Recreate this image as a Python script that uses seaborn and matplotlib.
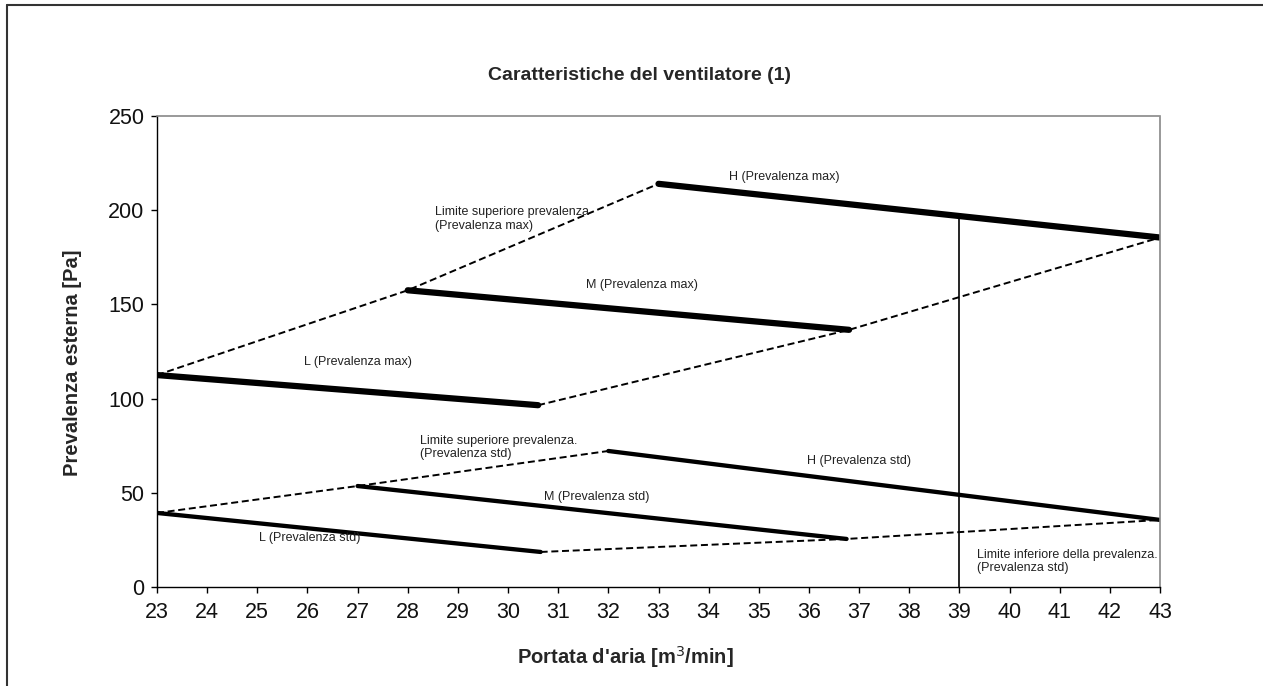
import matplotlib
matplotlib.use("Agg")
import matplotlib.pyplot as plt
from matplotlib.lines import Line2D
import seaborn as sns
import pandas as pd

# ---- data ----
x_ticks = list(range(23, 44))
y_ticks = [0, 50, 100, 150, 200, 250]

# max-pressure fan curves
L_max_x = [23.0, 30.6]
L_max_y = [112.5, 96.5]
M_max_x = [28.0, 36.8]
M_max_y = [157.5, 136.5]
H_max_x = [33.0, 43.0]
H_max_y = [214.0, 185.5]
# max-pressure envelope
upper_max_x = [23.0, 28.0, 33.0]
upper_max_y = [112.5, 157.5, 214.0]
lower_max_x = [30.6, 36.8, 43.0]
lower_max_y = [96.5, 136.5, 185.5]

# standard-pressure fan curves
L_std_x = [23.0, 30.65]
L_std_y = [39.3, 18.6]
M_std_x = [27.0, 36.75]
M_std_y = [53.6, 25.5]
H_std_x = [32.0, 43.0]
H_std_y = [72.2, 35.6]
# standard-pressure envelope
upper_std_x = [23.0, 27.0, 32.0]
upper_std_y = [39.3, 53.6, 72.2]
lower_std_x = [30.65, 36.75, 43.0]
lower_std_y = [18.6, 25.5, 35.6]

# vertical reference line
vline_x = [39.0, 39.0]
vline_y = [0.0, 197.3]

labels = [
    ("H (Prevalenza max)", 35.5, 217.6, "center"),
    ("Limite superiore prevalenza\n(Prevalenza max)", 28.55, 195.5, "left"),
    ("M (Prevalenza max)", 32.66, 160.3, "center"),
    ("L (Prevalenza max)", 27.0, 119.4, "center"),
    ("Limite superiore prevalenza.\n(Prevalenza std)", 28.25, 74.0, "left"),
    ("H (Prevalenza std)", 37.0, 66.9, "center"),
    ("M (Prevalenza std)", 31.76, 47.8, "center"),
    ("L (Prevalenza std)", 26.04, 26.0, "center"),
    ("Limite inferiore della prevalenza.\n(Prevalenza std)", 39.35, 13.5, "left"),
]

title = "Caratteristiche del ventilatore (1)"
xlabel = "Portata d'aria [m$^3$/min]"
ylabel = "Prevalenza esterna [Pa]"

# ---- plotting ----
sns.set_theme(style="white")
narrow = ["Liberation Sans Narrow", "Liberation Sans", "DejaVu Sans"]
plt.rcParams["font.family"] = ["Liberation Sans", "DejaVu Sans"]

W, H = 1263, 686
fig = plt.figure(figsize=(W / 100, H / 100), dpi=100)
ax = fig.add_axes([157 / W, 1 - 587 / H, (1160 - 157) / W, (587 - 116) / H])

dash = (0, (3.6, 1.9))
segments = [
    (L_max_x, L_max_y, 4.5, "-"),
    (M_max_x, M_max_y, 4.5, "-"),
    (H_max_x, H_max_y, 4.5, "-"),
    (upper_max_x, upper_max_y, 1.4, dash),
    (lower_max_x, lower_max_y, 1.4, dash),
    (L_std_x, L_std_y, 3.1, "-"),
    (M_std_x, M_std_y, 3.1, "-"),
    (H_std_x, H_std_y, 3.1, "-"),
    (upper_std_x, upper_std_y, 1.4, dash),
    (lower_std_x, lower_std_y, 1.4, dash),
    (vline_x, vline_y, 1.2, "-"),
]
for xs, ys, lw, ls in segments:
    df = pd.DataFrame({"x": xs, "y": ys})
    sns.lineplot(data=df, x="x", y="y", ax=ax, color="black", lw=lw,
                 linestyle=ls, sort=False, estimator=None)

for txt, x, y, ha in labels:
    ax.text(x, y, txt, ha=ha, va="center", fontsize=9, family=narrow,
            color="#222222", linespacing=1.2)

ax.set_xlim(23, 43)
ax.set_ylim(0, 250)
ax.set_xticks(x_ticks)
ax.set_xticklabels([str(v) for v in x_ticks])
ax.set_yticks(y_ticks)
ax.set_yticklabels([str(v) for v in y_ticks])
ax.tick_params(axis="both", labelsize=15.5, direction="out", length=4, width=1,
               color="black", bottom=True, left=True, pad=5, labelcolor="#111111")
ax.tick_params(axis="x", pad=7)

for s in ["left", "bottom"]:
    ax.spines[s].set_color("black")
    ax.spines[s].set_linewidth(1.0)
for s in ["top", "right"]:
    ax.spines[s].set_color("#888888")
    ax.spines[s].set_linewidth(1.2)
    ax.spines[s].set_linestyle((0, (1, 1)))

ax.set_xlabel("")
ax.set_ylabel("")
fig.text(625 / W, 1 - 657 / H, xlabel, ha="center", va="center",
         fontsize=14.5, fontweight="bold", family=narrow)
fig.text(73 / W, 1 - 363 / H, ylabel, ha="center", va="center", rotation=90,
         fontsize=14.5, fontweight="bold", family=narrow)
fig.text(640 / W, 1 - 75 / H, title, ha="center", va="center",
         fontsize=14, fontweight="bold", family=narrow)

# figure frame (left and top edges visible)
fig.add_artist(Line2D([7 / W, 7 / W], [0, 1 - 5 / H], transform=fig.transFigure,
                      color="#333333", lw=1.5))
fig.add_artist(Line2D([7 / W, 1], [1 - 5 / H, 1 - 5 / H], transform=fig.transFigure,
                      color="#333333", lw=1.5))

fig.savefig("out.png", dpi=100)
